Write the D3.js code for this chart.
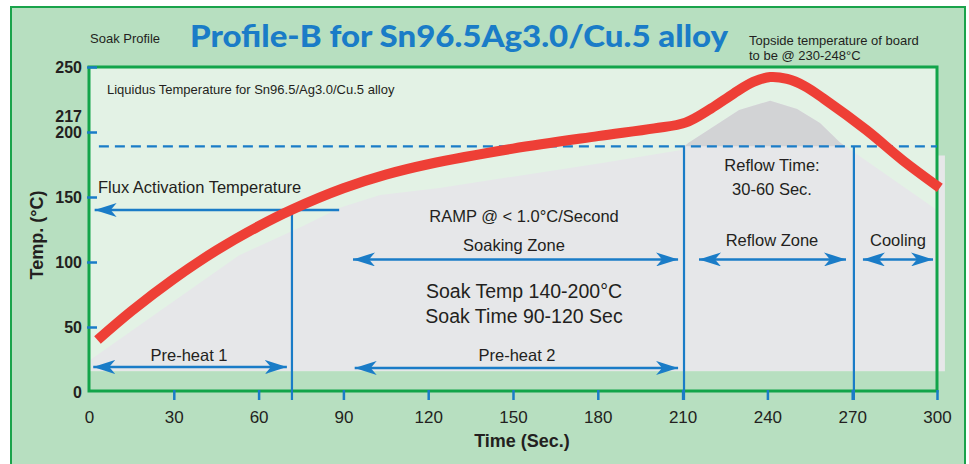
<!DOCTYPE html>
<html>
<head>
<meta charset="utf-8">
<script src="https://cdn.jsdelivr.net/npm/d3@7"></script>
<style>
  body { margin: 0; background: #fff; }
  svg text { font-family: "Liberation Sans", Arial, sans-serif; fill: #231f20; }
</style>
</head>
<body>
<div id="chart"></div>
<script>
// reflow profile (red curve)
const profileTime = [3, 15, 30, 45, 60, 72, 90, 105, 120, 150, 180, 200, 211, 220, 228, 235, 241, 247, 253, 260, 275, 288, 301];
const profileTemp = [40, 62.2, 87, 108.8, 127.5, 140.5, 156.7, 167.2, 175.2, 187.2, 196.8, 202.8, 207.2, 218, 229.5, 238.5, 242.3, 240.8, 235.5, 225.5, 201.5, 178, 157];

// grey shaded process window
const shadeTime = [0, 53, 75, 89, 103, 124, 181, 209, 212, 230, 241, 250.5, 258.6, 265.7, 300, 300, 302.8, 302.8, 0];
const shadeTemp = [24, 105, 127, 142, 151.5, 157, 176, 186, 191.5, 217, 224, 217.7, 207, 192, 140, 182, 182, 16, 16];

const xTicks = [0, 30, 60, 90, 120, 150, 180, 210, 240, 270, 300];
const yTicks = [0, 50, 100, 150, 200, 250];
const liquidus = 189;   // dashed line level as drawn
const fluxTemp = 140;

// zone markers: vertical lines
const zoneTime = [71.8, 210.5, 270.6];
const zoneTop = [fluxTemp, liquidus, liquidus];

// arrows: start, end, level, heads
const arrowFrom = [88.5, 1.5, 94, 93.4, 215.8, 273.8];
const arrowTo = [2, 70, 208.4, 208.4, 267.8, 298.6];
const arrowTemp = [fluxTemp, 19.2, 18.5, 102, 102, 102];
const arrowDouble = [false, true, true, true, true, true];

const width = 969, height = 464;
const blue = '#1a7cc7';

function renderProfileChart() {
    const svg = d3.select('#chart').append('svg')
        .attr('width', width)
        .attr('height', height);

    const x = d3.scaleLinear().domain([0, 300]).range([89, 937]);
    const y = d3.scaleLinear().domain([0, 250]).range([392, 67]);

    const defs = svg.append('defs');
    defs.append('marker')
        .attr('id', 'head')
        .attr('markerUnits', 'userSpaceOnUse')
        .attr('markerWidth', 24).attr('markerHeight', 14)
        .attr('viewBox', '0 0 24 14')
        .attr('refX', 22).attr('refY', 7)
        .attr('orient', 'auto-start-reverse')
        .append('path')
        .attr('d', 'M0,0 L22,7 L0,14 L6,7 Z')
        .attr('fill', blue);
    defs.append('clipPath').attr('id', 'aboveLiq')
        .append('rect')
        .attr('x', 0).attr('y', 0)
        .attr('width', width).attr('height', y(liquidus));

    // outer panel
    svg.append('rect')
        .attr('x', 11).attr('y', 7)
        .attr('width', 954).attr('height', 470)
        .attr('fill', '#b7dfc0')
        .attr('stroke', '#1aa34b').attr('stroke-width', 2);

    // plot area
    svg.append('rect')
        .attr('x', x(0)).attr('y', y(250))
        .attr('width', x(300) - x(0)).attr('height', y(0) - y(250) - 1)
        .attr('fill', '#e3f2e5');

    const pts = shadeTime.map((t, i) => [x(t), y(shadeTemp[i])]);
    const poly = d3.line()(pts) + 'Z';
    svg.append('path').attr('d', poly).attr('fill', '#e6e7e9');
    svg.append('path').attr('d', poly).attr('fill', '#d2d3d5').attr('clip-path', 'url(#aboveLiq)');

    svg.append('rect')
        .attr('x', x(0)).attr('y', y(16))
        .attr('width', x(300) - x(0)).attr('height', y(0) - y(16) - 1)
        .attr('fill', '#b7dfc0');

    svg.append('rect')
        .attr('x', x(0)).attr('y', y(250))
        .attr('width', x(300) - x(0)).attr('height', y(0) - y(250) - 1)
        .attr('fill', 'none')
        .attr('stroke', '#12a44a').attr('stroke-width', 3);

    // axes
    const xAxis = svg.append('g')
        .attr('transform', `translate(0,${y(0) - 2})`)
        .call(d3.axisBottom(x).tickValues(xTicks).tickSize(10).tickPadding(11));
    const yAxis = svg.append('g')
        .attr('transform', `translate(${x(0) + 8},0)`)
        .call(d3.axisLeft(y).tickValues(yTicks).tickSize(10).tickPadding(5));
    [xAxis, yAxis].forEach(g => {
        g.select('.domain').remove();
        g.selectAll('.tick line').attr('stroke', blue).attr('stroke-width', 2.5)
            .filter(d => d === 0).remove();
        g.selectAll('.tick text')
            .style('font-family', '"Liberation Sans Narrow", "Liberation Sans", Arial, sans-serif')
            .style('font-size', '17px')
            .attr('fill', '#231f20');
    });
    yAxis.selectAll('.tick text').style('font-weight', 'bold').style('font-size', '16px');
    yAxis.append('text')
        .attr('x', -15).attr('y', y(217) + 12)
        .attr('text-anchor', 'end')
        .style('font-family', '"Liberation Sans Narrow", "Liberation Sans", Arial, sans-serif')
        .style('font-size', '16px').style('font-weight', 'bold')
        .text('217');

    // liquidus dashed line
    svg.append('line')
        .attr('x1', x(3.5)).attr('x2', x(300))
        .attr('y1', y(liquidus)).attr('y2', y(liquidus))
        .attr('stroke', blue).attr('stroke-width', 2.2)
        .attr('stroke-dasharray', '10,6');

    // zone lines
    svg.selectAll('.zone')
        .data(zoneTime)
        .enter().append('line')
        .attr('x1', d => x(d)).attr('x2', d => x(d))
        .attr('y1', (d, i) => y(zoneTop[i])).attr('y2', y(0) + 8)
        .attr('stroke', blue).attr('stroke-width', 2.2);

    // arrows
    svg.selectAll('.arrow')
        .data(arrowFrom)
        .enter().append('line')
        .attr('x1', d => x(d)).attr('x2', (d, i) => x(arrowTo[i]))
        .attr('y1', (d, i) => y(arrowTemp[i])).attr('y2', (d, i) => y(arrowTemp[i]))
        .attr('stroke', blue).attr('stroke-width', 2.5)
        .attr('marker-end', 'url(#head)')
        .attr('marker-start', (d, i) => arrowDouble[i] ? 'url(#head)' : null);

    // temperature profile
    svg.append('path')
        .datum(profileTime.map((t, i) => [t, profileTemp[i]]))
        .attr('d', d3.line().x(d => x(d[0])).y(d => y(d[1])).curve(d3.curveCatmullRom.alpha(0.5)))
        .attr('fill', 'none')
        .attr('stroke', '#ee3f36').attr('stroke-width', 10);

    // texts
    const labels = [
        ['Soak Profile', 90, 43, 13, 'start'],
        ['Topside temperature of board', 749, 45, 13, 'start'],
        ['to be @ 230-248°C', 749, 60, 13, 'start'],
        ['Liquidus Temperature for Sn96.5/Ag3.0/Cu.5 alloy', 107, 94, 13, 'start'],
        ['Flux Activation Temperature', 98, 193, 16.5, 'start'],
        ['RAMP @ < 1.0°C/Second', 524, 222, 16.5, 'middle'],
        ['Soaking Zone', 514, 251, 16.5, 'middle'],
        ['Soak Temp 140-200°C', 524, 298, 19.5, 'middle'],
        ['Soak Time 90-120 Sec', 524, 323, 19.5, 'middle'],
        ['Pre-heat 1', 189, 361, 16.5, 'middle'],
        ['Pre-heat 2', 517, 361, 16.5, 'middle'],
        ['Reflow Time:', 772, 171, 16.5, 'middle'],
        ['30-60 Sec.', 772, 195, 16.5, 'middle'],
        ['Reflow Zone', 772, 246, 16.5, 'middle'],
        ['Cooling', 898, 246, 16.5, 'middle']
    ];
    svg.selectAll('.lbl')
        .data(labels)
        .enter().append('text')
        .attr('x', d => d[1]).attr('y', d => d[2])
        .attr('text-anchor', d => d[4])
        .style('font-size', d => d[3] + 'px')
        .text(d => d[0]);

    svg.append('text')
        .attr('x', 459).attr('y', 47)
        .attr('text-anchor', 'middle')
        .attr('textLength', 538).attr('lengthAdjust', 'spacingAndGlyphs')
        .style('font-family', 'Lato, "Open Sans", sans-serif')
        .style('font-weight', '900').style('font-size', '31px')
        .style('fill', blue)
        .text('Profile-B for Sn96.5Ag3.0/Cu.5 alloy');

    svg.append('text')
        .attr('x', 522).attr('y', 447)
        .attr('text-anchor', 'middle')
        .style('font-family', '"Liberation Sans Narrow", "Liberation Sans", Arial, sans-serif')
        .style('font-weight', 'bold').style('font-size', '18px')
        .text('Time (Sec.)');

    svg.append('text')
        .attr('transform', 'translate(43,235) rotate(-90)')
        .attr('text-anchor', 'middle')
        .style('font-family', '"Liberation Sans Narrow", "Liberation Sans", Arial, sans-serif')
        .style('font-weight', 'bold').style('font-size', '18px')
        .text('Temp. (°C)');
}

renderProfileChart();
</script>
</body>
</html>
